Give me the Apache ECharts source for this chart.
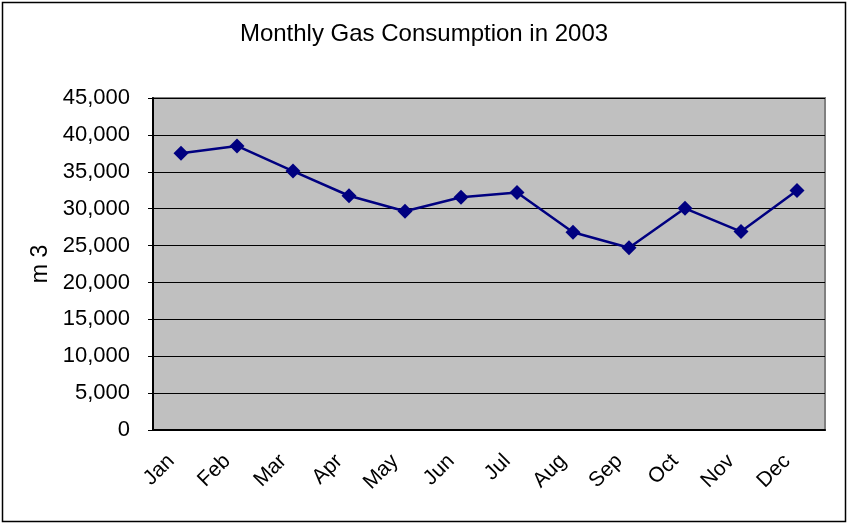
<!DOCTYPE html>
<html>
<head>
<meta charset="utf-8">
<script src="https://cdn.jsdelivr.net/npm/echarts@6/dist/echarts.min.js"></script>
<style>
  html, body { margin: 0; padding: 0; background: #fff; }
  #chart { width: 848px; height: 524px; }
</style>
</head>
<body>
<div id="chart"></div>
<script>
// 月份和用气量
const months = ['Jan', 'Feb', 'Mar', 'Apr', 'May', 'Jun', 'Jul', 'Aug', 'Sep', 'Oct', 'Nov', 'Dec'];
const gasUsage = [37500, 38500, 35100, 31750, 29650, 31550, 32200, 26800, 24700, 30050, 26900, 32450];
const yTicks = [0, 5000, 10000, 15000, 20000, 25000, 30000, 35000, 40000, 45000];

const chart = echarts.init(document.getElementById('chart'));

const fmt = function (v) {
    return v.toString().replace(/\B(?=(\d{3})+(?!\d))/g, ',');
};

const optionData = {
    animation: false,
    textStyle: { fontFamily: 'Liberation Sans, Arial, sans-serif' },
    title: {
        text: 'Monthly Gas Consumption in 2003',
        left: 'center',
        top: 17,
        textStyle: { fontSize: 24, fontWeight: 'normal', color: '#000' }
    },
    graphic: [{
        type: 'rect',
        shape: { x: 2.5, y: 2.5, width: 843, height: 519 },
        style: { fill: 'none', stroke: '#000', lineWidth: 1.5 },
        z: 100
    }],
    grid: {
        left: 153,
        right: 23,
        top: 98,
        bottom: 94,
        show: true,
        backgroundColor: '#C0C0C0',
        borderColor: '#808080',
        borderWidth: 2
    },
    xAxis: {
        type: 'category',
        data: months,
        boundaryGap: true,
        axisLine: { lineStyle: { color: '#000', width: 2 } },
        axisTick: { inside: true, length: 8, alignWithLabel: false, lineStyle: { color: '#000' } },
        axisLabel: {
            rotate: 45,
            interval: 0,
            margin: 18,
            padding: [0, 14, 0, 0],
            fontSize: 21,
            color: '#000'
        },
        splitLine: { show: false }
    },
    yAxis: {
        type: 'value',
        min: yTicks[0],
        max: yTicks[yTicks.length - 1],
        interval: 5000,
        name: 'm 3',
        nameLocation: 'middle',
        nameGap: 99,
        nameRotate: 90,
        nameTextStyle: { fontSize: 23, color: '#000' },
        axisLine: { show: true, lineStyle: { color: '#000', width: 2 } },
        axisTick: { show: true, length: 5, lineStyle: { color: '#000' } },
        axisLabel: {
            fontSize: 22,
            color: '#000',
            margin: 23,
            formatter: fmt
        },
        splitLine: { lineStyle: { color: '#000', width: 1 } }
    },
    series: [{
        name: 'm3',
        type: 'line',
        data: gasUsage,
        symbol: 'diamond',
        symbolSize: 15,
        itemStyle: { color: '#000080' },
        lineStyle: { color: '#000080', width: 2.5 }
    }]
};

chart.setOption(optionData);
</script>
</body>
</html>
